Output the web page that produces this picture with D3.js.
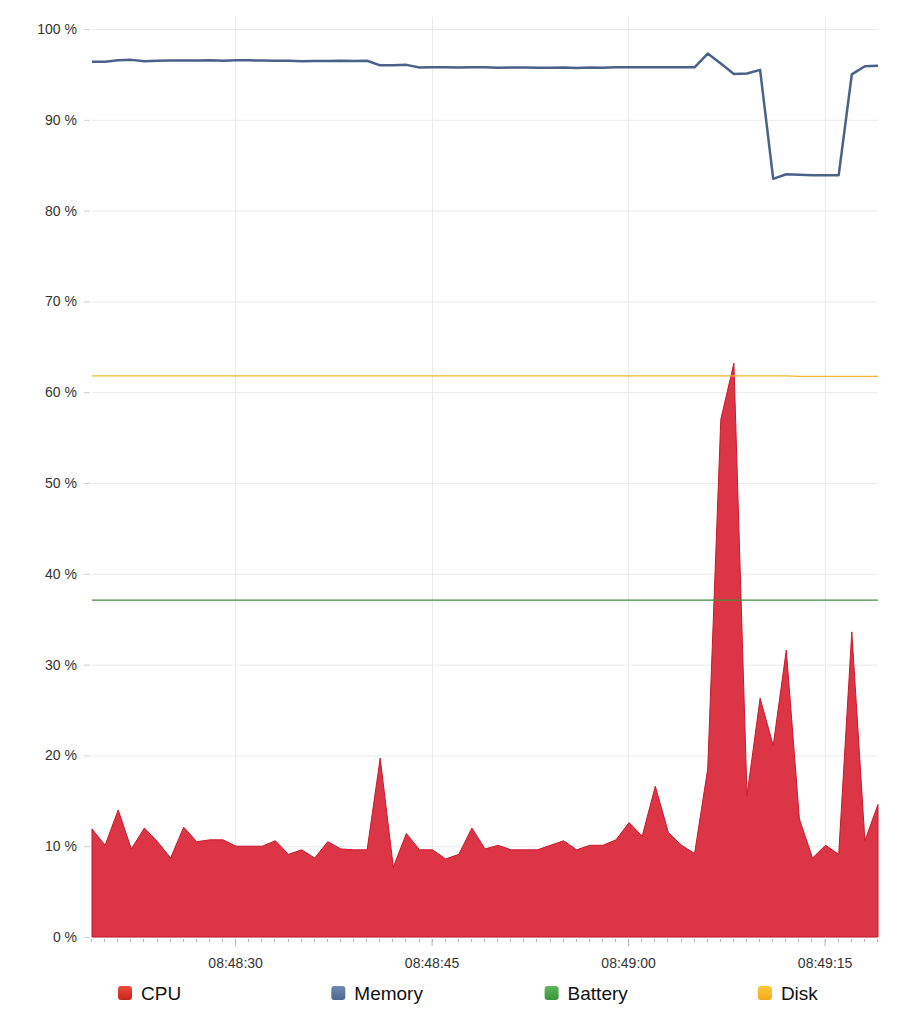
<!DOCTYPE html>
<html>
<head>
<meta charset="utf-8">
<script src="https://cdn.jsdelivr.net/npm/d3@7"></script>
<style>
  html, body { margin: 0; padding: 0; background: #fff; }
  svg { display: block; font-family: "Helvetica Neue", Helvetica, "Liberation Sans", Arial, sans-serif; }
</style>
</head>
<body>
<svg id="chart" width="899" height="1024"></svg>
<script>
// ---- data ----
const startTime = "08:48:19";
const cpu = [11.9, 10.1, 14.0, 9.7, 12.0, 10.5, 8.7, 12.1, 10.5, 10.7, 10.7,
  10.0, 10.0, 10.0, 10.6, 9.1, 9.6, 8.7, 10.5, 9.7, 9.6, 9.6, 19.7,
  7.7, 11.4, 9.6, 9.6, 8.6, 9.1, 12.0, 9.7, 10.1, 9.6, 9.6, 9.6, 10.1, 10.6,
  9.6, 10.1, 10.1, 10.7, 12.6, 11.1, 16.6, 11.5, 10.1, 9.2, 18.5, 57.0,
  63.2, 15.6, 26.3, 21.1, 31.6, 13.0, 8.7, 10.1, 9.1, 33.6, 10.6, 14.6];
const memory = [96.4, 96.4, 96.55, 96.6, 96.45, 96.5, 96.52, 96.52, 96.52, 96.55, 96.5,
  96.55, 96.55, 96.52, 96.5, 96.5, 96.45, 96.48, 96.48, 96.5, 96.48, 96.5, 96.0,
  96.0, 96.05, 95.75, 95.8, 95.8, 95.75, 95.78, 95.78, 95.72, 95.75, 95.75, 95.72, 95.72, 95.75,
  95.7, 95.75, 95.72, 95.78, 95.8, 95.8, 95.78, 95.78, 95.78, 95.78, 97.3, 96.2,
  95.04, 95.1, 95.5, 83.5, 84.0, 83.95, 83.9, 83.9, 83.9, 95.0, 95.9, 95.95];
const battery = Array.from({length: 61}, () => 37.1);
const disk = [61.8, 61.8, 61.8, 61.8, 61.8, 61.8, 61.8, 61.8, 61.8, 61.8, 61.8,
  61.8, 61.8, 61.8, 61.8, 61.8, 61.8, 61.8, 61.8, 61.8, 61.8, 61.8, 61.8,
  61.8, 61.8, 61.8, 61.8, 61.8, 61.8, 61.8, 61.8, 61.8, 61.8, 61.8, 61.8, 61.8, 61.8,
  61.8, 61.8, 61.8, 61.8, 61.8, 61.8, 61.8, 61.8, 61.8, 61.8, 61.8, 61.8,
  61.8, 61.8, 61.8, 61.8, 61.8, 61.75, 61.75, 61.75, 61.75, 61.75, 61.75, 61.75];
const yTicks = [0, 10, 20, 30, 40, 50, 60, 70, 80, 90, 100];
const seriesNames = ["CPU", "Memory", "Battery", "Disk"];
const seriesColors = ["#dc3545", "#4a6189", "#3f8f3f", "#f2b632"];
const legendTop = ["#ee4b3c", "#7189b0", "#5cb85c", "#fdc93a"];
const legendBottom = ["#c9231b", "#4e6790", "#3b923b", "#f3a91b"];

// ---- layout ----
const svg = d3.select("#chart");
const m = {left: 92, right: 878, top: 29, bottom: 937};
const parse = d3.timeParse("%H:%M:%S");
const t0 = parse(startTime);
const times = cpu.map((_, i) => d3.timeSecond.offset(t0, i));

const x = d3.scaleTime().domain([times[0], times[times.length - 1]]).range([m.left, m.right]);
const y = d3.scaleLinear().domain([0, 100]).range([m.bottom, m.top]);

const defs = svg.append("defs");
seriesNames.forEach((n, i) => {
  const g = defs.append("linearGradient").attr("id", "lg" + i).attr("x1", 0).attr("x2", 0).attr("y1", 0).attr("y2", 1);
  g.append("stop").attr("offset", "0%").attr("stop-color", legendTop[i]);
  g.append("stop").attr("offset", "100%").attr("stop-color", legendBottom[i]);
});

// gridlines
svg.append("g").selectAll("line").data(yTicks).join("line")
  .attr("x1", m.left).attr("x2", m.right)
  .attr("y1", d => y(d) + 0.5).attr("y2", d => y(d) + 0.5)
  .attr("stroke", "#ebebeb").attr("stroke-width", 1);
const majorTicks = x.ticks(d3.timeSecond.every(15));
svg.append("g").selectAll("line").data(majorTicks).join("line")
  .attr("x1", d => Math.round(x(d)) - 0.5).attr("x2", d => Math.round(x(d)) - 0.5)
  .attr("y1", m.top - 12).attr("y2", m.bottom)
  .attr("stroke", "#ebebeb").attr("stroke-width", 1);

// y axis
const yAxis = d3.axisLeft(y).tickValues(yTicks).tickSize(6).tickPadding(7).tickFormat(d => d + " %");
const yg = svg.append("g").attr("transform", `translate(${m.left - 2},0)`).call(yAxis);
yg.select(".domain").remove();
yg.selectAll(".tick line").attr("stroke", "#cfcfcf");
yg.selectAll(".tick text").attr("fill", "#333").style("font-size", "14px");

// x axis: minor ticks every second
const minorTicks = x.ticks(d3.timeSecond.every(1));
svg.append("g").selectAll("line").data(minorTicks).join("line")
  .attr("x1", d => Math.round(x(d)) - 0.5).attr("x2", d => Math.round(x(d)) - 0.5)
  .attr("y1", m.bottom + 2).attr("y2", m.bottom + 5)
  .attr("stroke", "#b5b5b5");
const xAxis = d3.axisBottom(x).tickValues(majorTicks).tickSize(9).tickPadding(12).tickFormat(d3.timeFormat("%H:%M:%S"));
const xg = svg.append("g").attr("transform", `translate(-1,${m.bottom})`).call(xAxis);
xg.select(".domain").remove();
xg.selectAll(".tick line").attr("stroke", "#b5b5b5").attr("y1", 2);
xg.selectAll(".tick text").attr("fill", "#333").style("font-size", "14px");

// CPU area
const area = d3.area().x((d, i) => x(times[i])).y0(y(0)).y1(d => y(d));
svg.append("path").datum(cpu).attr("d", area)
  .attr("fill", seriesColors[0]).attr("stroke", "#c8192c").attr("stroke-width", 1);

const line = d3.line().x((d, i) => x(times[i])).y(d => y(d));
svg.append("path").datum(battery).attr("d", line)
  .attr("fill", "none").attr("stroke", seriesColors[2]).attr("stroke-width", 1.2);
svg.append("path").datum(disk).attr("d", line)
  .attr("fill", "none").attr("stroke", seriesColors[3]).attr("stroke-width", 1.2);
svg.append("path").datum(memory).attr("d", line)
  .attr("fill", "none").attr("stroke", seriesColors[1]).attr("stroke-width", 2.5).attr("stroke-linejoin", "round");

// legend
const lg = svg.append("g").selectAll("g").data(seriesNames).join("g")
  .attr("transform", (d, i) => `translate(${118 + i * 213.3},986)`);
lg.append("rect").attr("width", 14).attr("height", 14).attr("rx", 3).attr("ry", 3)
  .attr("fill", (d, i) => `url(#lg${i})`);
lg.append("text").attr("x", 23).attr("y", 14).text(d => d)
  .attr("fill", "#111").style("font-size", "19px");
</script>
</body>
</html>
